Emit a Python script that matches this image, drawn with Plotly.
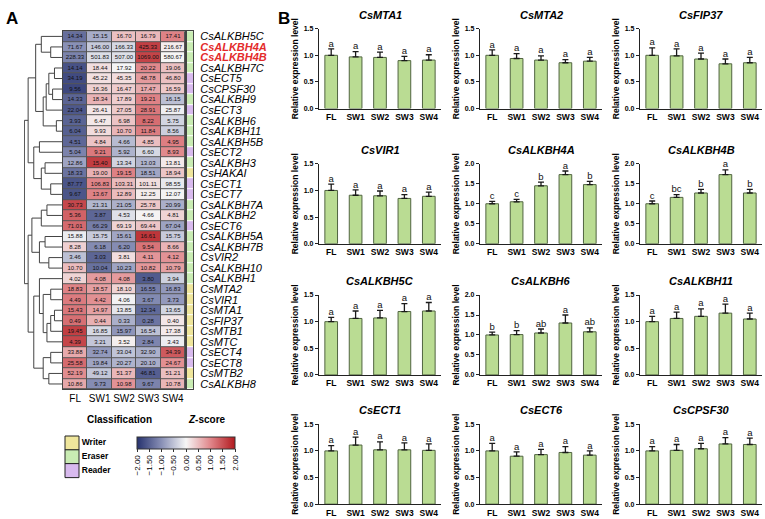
import numpy as np
import plotly.graph_objects as go

W, H = 765, 519
FONT = "Liberation Sans, Arial, sans-serif"

# ---------------- Panel A data ----------------
genes = ["CsALKBH5C", "CsALKBH4A", "CsALKBH4B", "CsALKBH7C", "CsECT5", "CsCPSF30", "CsALKBH9",
         "CsECT3", "CsALKBH6", "CsALKBH11", "CsALKBH5B", "CsECT2", "CsALKBH3", "CsHAKAI",
         "CsECT1", "CsECT7", "CsALKBH7A", "CsALKBH2", "CsECT6", "CsALKBH5A", "CsALKBH7B",
         "CsVIR2", "CsALKBH10", "CsALKBH1", "CsMTA2", "CsVIR1", "CsMTA1", "CsFIP37",
         "CsMTB1", "CsMTC", "CsECT4", "CsECT8", "CsMTB2", "CsALKBH8"]
gene_class = ["Eraser", "Eraser", "Eraser", "Eraser", "Reader", "Reader", "Eraser",
              "Reader", "Eraser", "Eraser", "Eraser", "Reader", "Eraser", "Writer",
              "Reader", "Reader", "Eraser", "Eraser", "Reader", "Eraser", "Eraser",
              "Eraser", "Eraser", "Eraser", "Writer", "Writer", "Writer", "Writer",
              "Writer", "Writer", "Reader", "Reader", "Writer", "Eraser"]
highlight = ["CsALKBH4A", "CsALKBH4B"]
stages = ["FL", "SW1", "SW2", "SW3", "SW4"]
fpkm_FL = [14.34, 71.67, 228.33, 14.14, 34.19, 9.56, 14.33, 22.04, 3.93, 6.04, 4.51, 5.04, 12.86,
           18.33, 87.77, 9.67, 30.73, 5.36, 71.01, 15.88, 8.28, 3.46, 10.70, 4.02, 18.83, 4.49,
           15.43, 0.49, 19.45, 4.39, 33.88, 25.58, 52.19, 10.86]
fpkm_SW1 = [15.15, 146.00, 501.83, 18.44, 45.22, 16.36, 18.34, 26.41, 6.47, 9.93, 4.84, 9.21, 15.40,
            19.00, 106.83, 13.67, 21.31, 3.87, 66.29, 15.75, 6.18, 3.03, 10.04, 4.08, 18.57, 4.42,
            14.97, 0.44, 16.85, 3.21, 32.74, 19.84, 49.12, 9.73]
fpkm_SW2 = [16.70, 166.33, 507.00, 17.92, 45.35, 16.47, 17.89, 27.05, 6.98, 10.70, 4.66, 5.92, 13.34,
            19.15, 103.31, 12.89, 21.05, 4.53, 69.19, 15.61, 6.20, 3.81, 10.23, 4.08, 18.10, 4.06,
            13.85, 0.33, 15.97, 3.52, 33.04, 20.27, 51.37, 10.98]
fpkm_SW3 = [16.79, 425.33, 1069.00, 20.22, 48.78, 17.47, 19.21, 28.91, 8.22, 11.84, 4.85, 6.60, 13.03,
            18.51, 101.11, 12.25, 25.78, 4.66, 69.44, 16.61, 9.54, 4.11, 10.82, 3.80, 16.55, 3.67,
            12.34, 0.28, 16.54, 2.84, 32.90, 20.10, 46.81, 9.67]
fpkm_SW4 = [17.41, 216.67, 580.67, 19.06, 46.80, 16.59, 16.15, 25.87, 5.75, 8.56, 4.95, 8.93, 13.81,
            18.94, 98.55, 12.07, 20.99, 4.81, 67.04, 15.75, 8.66, 4.12, 10.79, 3.94, 16.83, 3.73,
            13.65, 0.40, 17.38, 3.43, 34.39, 24.67, 51.21, 10.78]
# row-dendrogram merges (leaf ids 0..33 in display order, new clusters numbered from 34), height
dendro_merges = [(1, 2, 0.30), (0, 34, 0.55), (3, 4, 0.20), (5, 6, 0.25), (36, 37, 0.35),
                 (38, 7, 0.42), (8, 9, 0.15), (39, 40, 0.50), (35, 41, 0.70), (10, 11, 0.60),
                 (12, 13, 0.45), (14, 15, 0.30), (44, 45, 0.55), (43, 46, 0.75), (42, 47, 0.90),
                 (16, 17, 0.40), (49, 18, 0.55), (19, 20, 0.45), (21, 22, 0.35), (51, 52, 0.60),
                 (50, 53, 0.80), (24, 25, 0.30), (26, 27, 0.20), (56, 28, 0.30), (57, 29, 0.40),
                 (55, 58, 0.50), (23, 59, 0.60), (30, 31, 0.30), (32, 33, 0.35), (61, 62, 0.50),
                 (60, 63, 0.75), (54, 64, 0.90), (48, 65, 1.00)]
class_names = ["Writer", "Eraser", "Reader"]
class_colors = ["#efe69c", "#c9ecb3", "#d8baee"]
zscore_ticks = [-2.0, -1.5, -1.0, -0.5, 0.0, 0.5, 1.0, 1.5, 2.0]

# ---------------- Panel B data ----------------
bar_titles = ["CsMTA1", "CsMTA2", "CsFIP37", "CsVIR1", "CsALKBH4A", "CsALKBH4B",
              "CsALKBH5C", "CsALKBH6", "CsALKBH11", "CsECT1", "CsECT6", "CsCPSF30"]
mta1_mean = [1.00, 0.97, 0.96, 0.90, 0.91];  mta1_err = [0.12, 0.10, 0.10, 0.08, 0.10]
mta2_mean = [1.00, 0.94, 0.91, 0.86, 0.89];  mta2_err = [0.10, 0.09, 0.08, 0.06, 0.07]
fip37_mean = [1.00, 0.99, 0.93, 0.84, 0.86]; fip37_err = [0.14, 0.13, 0.11, 0.09, 0.10]
vir1_mean = [1.00, 0.91, 0.90, 0.85, 0.89];  vir1_err = [0.12, 0.10, 0.09, 0.07, 0.08]
alkbh4a_mean = [1.00, 1.05, 1.45, 1.73, 1.48]; alkbh4a_err = [0.06, 0.06, 0.09, 0.09, 0.08]
alkbh4b_mean = [1.00, 1.16, 1.27, 1.73, 1.27]; alkbh4b_err = [0.07, 0.07, 0.09, 0.12, 0.09]
alkbh5c_mean = [1.00, 1.06, 1.07, 1.19, 1.20]; alkbh5c_err = [0.08, 0.14, 0.14, 0.15, 0.16]
alkbh6_mean = [1.00, 1.01, 1.05, 1.30, 1.08];  alkbh6_err = [0.07, 0.10, 0.10, 0.20, 0.10]
alkbh11_mean = [1.00, 1.06, 1.10, 1.16, 1.05]; alkbh11_err = [0.10, 0.12, 0.14, 0.17, 0.11]
ect1_mean = [1.00, 1.11, 1.02, 1.02, 1.01];   ect1_err = [0.10, 0.15, 0.15, 0.13, 0.12]
ect6_mean = [1.00, 0.90, 0.93, 0.97, 0.92];   ect6_err = [0.14, 0.08, 0.10, 0.11, 0.08]
cpsf30_mean = [1.00, 1.01, 1.04, 1.13, 1.12]; cpsf30_err = [0.08, 0.11, 0.10, 0.12, 0.12]
bar_means = [mta1_mean, mta2_mean, fip37_mean, vir1_mean, alkbh4a_mean, alkbh4b_mean,
             alkbh5c_mean, alkbh6_mean, alkbh11_mean, ect1_mean, ect6_mean, cpsf30_mean]
bar_errs = [mta1_err, mta2_err, fip37_err, vir1_err, alkbh4a_err, alkbh4b_err,
            alkbh5c_err, alkbh6_err, alkbh11_err, ect1_err, ect6_err, cpsf30_err]
sig_letters = [["a"] * 5, ["a"] * 5, ["a"] * 5, ["a"] * 5,
               ["c", "c", "b", "a", "b"], ["c", "bc", "b", "a", "b"],
               ["a"] * 5, ["b", "b", "ab", "a", "ab"], ["a"] * 5,
               ["a"] * 5, ["a"] * 5, ["a"] * 5]
y_max = [1.5, 1.5, 1.5, 1.5, 2.0, 2.0, 1.5, 2.0, 1.5, 1.5, 1.5, 1.5]

# ---------------- helpers ----------------
def px_x(p):
    return p / W

def px_y(p):
    return 1 - p / H

n = len(genes)
mat = np.array([fpkm_FL, fpkm_SW1, fpkm_SW2, fpkm_SW3, fpkm_SW4]).T
zs = (mat - mat.mean(axis=1, keepdims=True)) / mat.std(axis=1, ddof=1, keepdims=True)
txt = [[f"{v:.2f}" for v in row] for row in mat]

fig = go.Figure()

hm_y_dom = [px_y(390.5), px_y(27.5)]
yr = [n - 0.5, -0.5]

# main heatmap
fig.add_trace(go.Heatmap(
    z=zs, x=list(range(5)), y=list(range(n)), text=txt, texttemplate="%{text}",
    textfont=dict(size=6, color="#111", family=FONT),
    colorscale=[[0, "#26326e"], [0.25, "#8990b6"], [0.5, "#f6f6f6"], [0.75, "#e0868a"], [1, "#b2191e"]],
    zmin=-2, zmax=2, xgap=1, ygap=1, hoverinfo="skip", xaxis="x", yaxis="y",
    colorbar=dict(orientation="h", x=px_x(186), xanchor="center", y=px_y(439), yanchor="top",
                  len=98, lenmode="pixels", thickness=12, thicknessmode="pixels",
                  outlinewidth=1, outlinecolor="#333", tickvals=zscore_ticks,
                  ticktext=[f"{t:.2f}".replace("-", "\u2212") for t in zscore_ticks],
                  tickangle=-90, ticks="outside", ticklen=3, tickcolor="#333",
                  tickfont=dict(size=8, family=FONT), xpad=0, ypad=0)))

# classification column
code = [class_names.index(c) for c in gene_class]
cs = []
for i, c in enumerate(class_colors):
    cs += [[i / 3, c], [(i + 1) / 3, c]]
fig.add_trace(go.Heatmap(z=[[c] for c in code], x=[0], y=list(range(n)), colorscale=cs,
                         zmin=-0.5, zmax=2.5, showscale=False, xgap=0, ygap=1,
                         hoverinfo="skip", xaxis="x2", yaxis="y2"))

# dendrogram
pos = {i: (0.0, float(i)) for i in range(n)}
dx, dy = [], []
for k, (a, b, h) in enumerate(dendro_merges):
    xa, ya = pos[a]
    xb, yb = pos[b]
    dx += [xa, h, h, xb, None]
    dy += [ya, ya, yb, yb, None]
    pos[n + k] = (h, (ya + yb) / 2)
fig.add_trace(go.Scatter(x=dx, y=dy, mode="lines", line=dict(color="#444", width=1),
                         hoverinfo="skip", showlegend=False, xaxis="x3", yaxis="y3"))

# classification key (own small axis)
fig.add_trace(go.Scatter(x=[0] * 3, y=list(range(3)), mode="markers+text", text=class_names,
                         textposition="middle right", cliponaxis=False,
                         textfont=dict(size=8.5, weight="bold", family=FONT),
                         marker=dict(symbol="square", size=14, color=class_colors,
                                     line=dict(color="#222", width=1)),
                         hoverinfo="skip", showlegend=False, xaxis="x16", yaxis="y16"))

layout = dict(
    width=W, height=H, margin=dict(l=0, r=0, t=0, b=0),
    paper_bgcolor="white", plot_bgcolor="white",
    font=dict(family=FONT, color="black"),
    showlegend=False,
    xaxis=dict(domain=[px_x(63), px_x(185)], range=[-0.5, 4.5], tickvals=list(range(5)),
               ticktext=stages, ticks="", tickangle=0, tickfont=dict(size=10), showline=True,
               mirror=True, linecolor="#444", linewidth=1, showgrid=False, zeroline=False,
               anchor="y"),
    yaxis=dict(domain=hm_y_dom, range=yr, showticklabels=False, showline=True, mirror=True,
               linecolor="#444", linewidth=1, showgrid=False, zeroline=False, anchor="x"),
    xaxis2=dict(domain=[px_x(186.5), px_x(193)], range=[-0.5, 0.5], showticklabels=False,
                showline=True, mirror=True, linecolor="#444", linewidth=1, showgrid=False,
                zeroline=False, anchor="y2"),
    yaxis2=dict(domain=hm_y_dom, range=yr, side="right", tickvals=list(range(n)),
                ticktext=[(f"<span style='color:#e32b2b'><b><i>{g}</i></b></span>" if g in highlight
                           else f"<i>{g}</i>") for g in genes],
                tickfont=dict(size=11), ticks="", ticklabelstandoff=4, showline=True, mirror=True,
                linecolor="#444", linewidth=1, showgrid=False, zeroline=False, anchor="x2"),
    xaxis3=dict(domain=[px_x(24), px_x(62)], range=[1.01, 0], visible=False, anchor="y3"),
    yaxis3=dict(domain=hm_y_dom, range=yr, visible=False, anchor="x3"),
    xaxis16=dict(domain=[px_x(57), px_x(87)], range=[-1, 1], visible=False, anchor="y16"),
    yaxis16=dict(domain=[px_y(480), px_y(438)], range=[2.5, -0.5], visible=False, anchor="x16"),
)

shapes = [dict(type="rect", xref="x domain", yref="y domain", x0=0, x1=1, y0=0, y1=1,
               fillcolor="#555", line=dict(width=0), layer="below")]
annotations = [
    dict(text="<b>A</b>", x=px_x(4), y=px_y(3), xref="paper", yref="paper", xanchor="left",
         yanchor="top", showarrow=False, font=dict(size=17)),
    dict(text="<b>B</b>", x=px_x(276), y=px_y(3), xref="paper", yref="paper", xanchor="left",
         yanchor="top", showarrow=False, font=dict(size=17)),
    dict(text="<b>Classification</b>", x=px_x(85), y=px_y(429), xref="paper", yref="paper",
         showarrow=False, font=dict(size=10)),
    dict(text="<b><i>Z</i>-score</b>", x=px_x(186), y=px_y(429), xref="paper", yref="paper",
         showarrow=False, font=dict(size=10)),
]

# ---------------- Panel B bars ----------------
col_left = [319, 480, 640]
row_top = [25, 162, 295, 426]
pw, ph = 122, 81
for i in range(12):
    r, c = divmod(i, 3)
    ax = i + 4
    xa, ya = f"x{ax}", f"y{ax}"
    means, errs = bar_means[i], bar_errs[i]
    fig.add_trace(go.Bar(
        x=stages, y=means, width=0.52,
        error_y=dict(type="data", array=errs, arrayminus=[0] * 5, symmetric=False,
                     color="#1a1a1a", thickness=1.3, width=3),
        marker=dict(color="#badc93", line=dict(color="#506440", width=1)),
        showlegend=False, hoverinfo="skip", xaxis=xa, yaxis=ya))
    fig.add_trace(go.Scatter(
        x=stages, y=[m + e for m, e in zip(means, errs)], text=sig_letters[i], mode="text",
        textposition="top center", textfont=dict(size=9.5, color="#111"), cliponaxis=False,
        showlegend=False, hoverinfo="skip", xaxis=xa, yaxis=ya))
    ticks = np.arange(0, y_max[i] + 0.01, 0.5)
    layout[f"xaxis{ax}"] = dict(
        domain=[px_x(col_left[c]), px_x(col_left[c] + pw)], range=[-0.5, 4.5], anchor=ya,
        showline=True, linecolor="#222", linewidth=1.3, ticks="", showgrid=False,
        zeroline=False, tickfont=dict(size=8.5, weight="bold"), type="category")
    layout[f"yaxis{ax}"] = dict(
        domain=[px_y(row_top[r] + ph), px_y(row_top[r])], range=[0, y_max[i]], anchor=xa,
        showline=True, linecolor="#222", linewidth=1.3, ticks="outside", ticklen=3,
        tickwidth=1.2, tickcolor="#222", tickvals=list(ticks),
        ticktext=[f"{t:.1f}" for t in ticks], tickfont=dict(size=7, weight="bold"),
        showgrid=False, zeroline=False,
        title=dict(text="Relative expression level", font=dict(size=8.5, weight="bold"),
                   standoff=3))
    annotations.append(dict(text=f"<b><i>{bar_titles[i]}</i></b>", x=0.5, y=1,
                            xref=f"x{ax} domain", yref=f"y{ax} domain", yanchor="bottom",
                            yshift=6, showarrow=False, font=dict(size=11)))

layout["shapes"] = shapes
layout["annotations"] = annotations
fig.update_layout(**layout)
fig.write_html("out.html", config={"displayModeBar": False},
               post_script="document.body.style.margin='0px';"
                           "document.body.style.padding='0px';"
                           "document.body.style.overflow='hidden';")
